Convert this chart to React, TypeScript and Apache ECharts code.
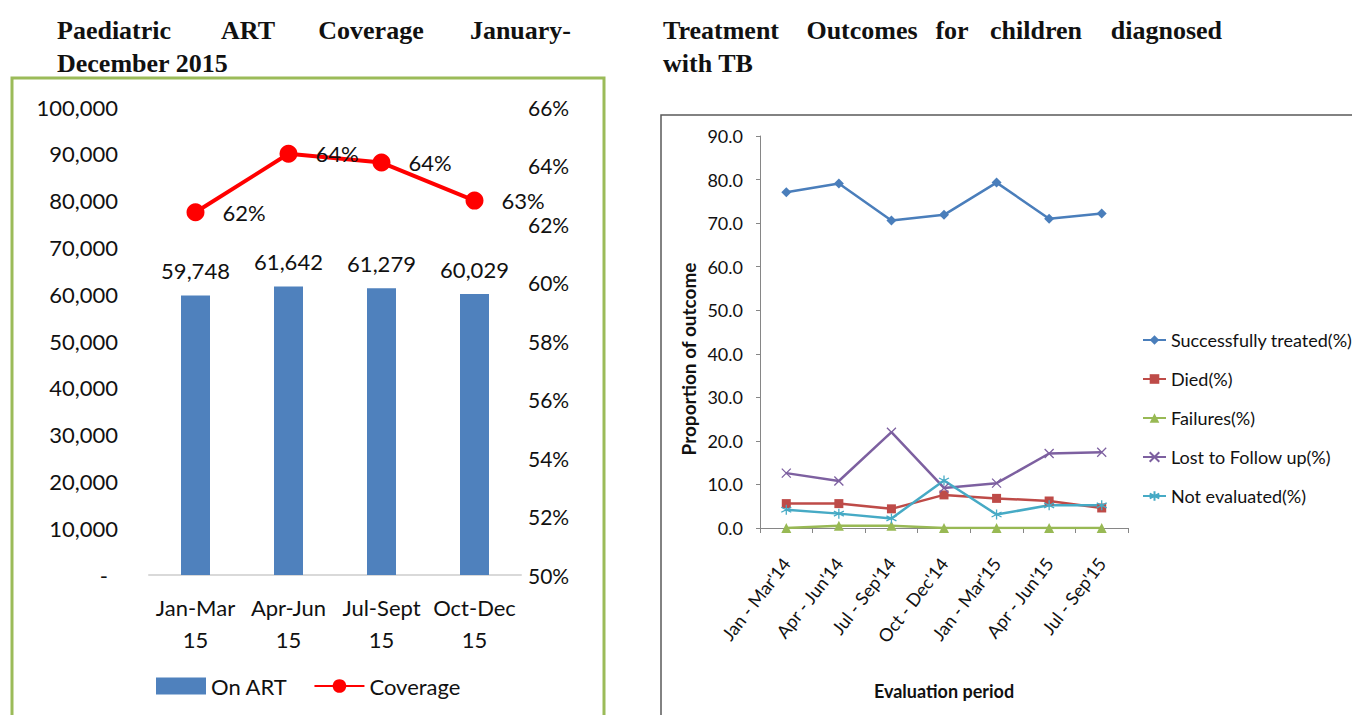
import React, { useEffect, useRef } from 'react';
import * as echarts from 'echarts';

// ---- Left chart data ----
const artCategories = ['Jan-Mar\n15', 'Apr-Jun\n15', 'Jul-Sept\n15', 'Oct-Dec\n15'];
const onArt = [59748, 61642, 61279, 60029];
const coverage = [62.4, 64.4, 64.1, 62.8];

// ---- Right chart data ----
const tbPeriods = ["Jan - Mar'14", "Apr - Jun'14", "Jul - Sep'14", "Oct - Dec'14", "Jan - Mar'15", "Apr - Jun'15", "Jul - Sep'15"];
const successfullyTreated = [77.1, 79.1, 70.6, 71.9, 79.3, 71.0, 72.2];
const died = [5.6, 5.6, 4.4, 7.6, 6.8, 6.2, 4.6];
const failures = [0, 0.5, 0.5, 0, 0, 0, 0];
const lostToFollowUp = [12.6, 10.8, 22.0, 9.2, 10.3, 17.1, 17.4];
const notEvaluated = [4.2, 3.3, 2.2, 10.9, 3.1, 5.2, 5.2];

const SANS = 'Lato, "Open Sans", sans-serif';
const SERIF = '"Liberation Serif", "DejaVu Serif", serif';
const TITLE_FONT = `bold 26px ${SERIF}`;

function word(text: string, x: number, y: number, align: string) {
  return {
    type: 'text',
    x,
    y,
    style: { text, font: TITLE_FONT, fill: '#111', textAlign: align, textVerticalAlign: 'middle' },
  };
}

const X_PATH = 'path://M0 0L10 10M10 0L0 10';
const STAR_PATH = 'path://M5 0L5 10M0.7 2.5L9.3 7.5M0.7 7.5L9.3 2.5';

function tbLine(name: string, data: number[], color: string, symbol: string, size: number, stroked: boolean) {
  return {
    name,
    type: 'line',
    xAxisIndex: 1,
    yAxisIndex: 2,
    data,
    symbol,
    symbolSize: size,
    showAllSymbol: true,
    lineStyle: { color, width: 2.5 },
    itemStyle: stroked ? { color, borderColor: color, borderWidth: 1.3 } : { color },
  };
}

export default function App() {
  const ref = useRef<HTMLDivElement>(null);
  useEffect(() => {
    const chart = echarts.init(ref.current!, null, { renderer: 'svg' });
    const option: any = {
      animation: false,
      backgroundColor: '#ffffff',
      textStyle: { fontFamily: SANS },
      graphic: [
        { type: 'rect', shape: { x: 12, y: 78, width: 592, height: 700 }, style: { fill: 'none', stroke: '#9BBB59', lineWidth: 3 } },
        { type: 'rect', shape: { x: 661, y: 115, width: 800, height: 700 }, style: { fill: 'none', stroke: '#595959', lineWidth: 1.5 } },
        word('Paediatric', 57, 30, 'left'),
        word('ART', 248, 30, 'center'),
        word('Coverage', 371, 30, 'center'),
        word('January-', 571, 30, 'right'),
        word('December 2015', 57, 63, 'left'),
        word('Treatment', 663, 30, 'left'),
        word('Outcomes', 862, 30, 'center'),
        word('for', 952, 30, 'center'),
        word('children', 1036, 30, 'center'),
        word('diagnosed', 1222, 30, 'right'),
        word('with TB', 663, 63, 'left'),
        {
          type: 'text',
          x: 688,
          y: 359,
          rotation: Math.PI / 2,
          style: { text: 'Proportion of outcome', font: `bold 19px ${SANS}`, fill: '#111', textAlign: 'center', textVerticalAlign: 'middle' },
        },
        {
          type: 'text',
          x: 944,
          y: 691,
          style: { text: 'Evaluation period', font: `bold 18px ${SANS}`, fill: '#111', textAlign: 'center', textVerticalAlign: 'middle' },
        },
      ],
      legend: [
        {
          left: 151,
          top: 670,
          itemWidth: 50,
          itemHeight: 17,
          itemGap: 26,
          textStyle: { fontSize: 22, color: '#111', fontFamily: SANS },
          data: [{ name: 'On ART', icon: 'rect' }, { name: 'Coverage' }],
        },
        {
          orient: 'vertical',
          left: 1137,
          top: 326,
          itemWidth: 23,
          itemHeight: 12,
          itemGap: 21,
          textStyle: { fontSize: 18, color: '#111', fontFamily: SANS },
          data: ['Successfully treated(%)', 'Died(%)', 'Failures(%)', 'Lost to Follow up(%)', 'Not evaluated(%)'],
        },
      ],
      grid: [
        { left: 149, top: 107, width: 372, height: 468 },
        { left: 760, top: 136, width: 368, height: 392 },
      ],
      xAxis: [
        {
          type: 'category',
          gridIndex: 0,
          data: artCategories,
          axisLine: { lineStyle: { color: '#D9D9D9', width: 2 } },
          axisTick: { show: false },
          axisLabel: { fontSize: 22, color: '#111', margin: 16, lineHeight: 32, fontFamily: SANS, interval: 0 },
        },
        {
          type: 'category',
          gridIndex: 1,
          data: tbPeriods,
          boundaryGap: true,
          axisLine: { lineStyle: { color: '#868686', width: 1 } },
          axisTick: { show: true, length: 5, interval: 0, lineStyle: { color: '#868686' } },
          axisLabel: { rotate: 52, fontSize: 18, color: '#111', margin: 32, interval: 0, fontFamily: SANS },
        },
      ],
      yAxis: [
        {
          type: 'value',
          gridIndex: 0,
          min: 0,
          max: 100000,
          interval: 10000,
          position: 'left',
          splitLine: { show: false },
          axisLine: { show: false },
          axisTick: { show: false },
          axisLabel: {
            fontSize: 22,
            color: '#111',
            margin: 31,
            fontFamily: SANS,
            formatter: (v: number) => (v === 0 ? '{d|-}' : v.toLocaleString('en-US')),
            rich: { d: { fontSize: 22, color: '#111', padding: [0, 10, 0, 0], fontFamily: SANS } },
          },
        },
        {
          type: 'value',
          gridIndex: 0,
          min: 50,
          max: 66,
          interval: 2,
          position: 'right',
          splitLine: { show: false },
          axisLine: { show: false },
          axisTick: { show: false },
          axisLabel: { fontSize: 21, color: '#111', margin: 7, fontFamily: SANS, formatter: (v: number) => `${v}%` },
        },
        {
          type: 'value',
          gridIndex: 1,
          min: 0,
          max: 90,
          interval: 10,
          splitLine: { show: false },
          axisLine: { show: true, lineStyle: { color: '#868686', width: 1 } },
          axisTick: { show: true, length: 4, lineStyle: { color: '#868686' } },
          axisLabel: { fontSize: 18, color: '#111', margin: 17, fontFamily: SANS, formatter: (v: number) => v.toFixed(1) },
        },
      ],
      series: [
        {
          name: 'On ART',
          type: 'bar',
          xAxisIndex: 0,
          yAxisIndex: 0,
          data: onArt,
          barWidth: 29,
          itemStyle: { color: '#4F81BD' },
          label: {
            show: true,
            position: 'top',
            distance: 14,
            fontSize: 22,
            color: '#111',
            fontFamily: SANS,
            formatter: (p: any) => Number(p.value).toLocaleString('en-US'),
          },
        },
        {
          name: 'Coverage',
          type: 'line',
          xAxisIndex: 0,
          yAxisIndex: 1,
          data: coverage,
          symbol: 'circle',
          symbolSize: 18,
          lineStyle: { color: '#FF0000', width: 4 },
          itemStyle: { color: '#FF0000' },
          label: {
            show: true,
            position: 'right',
            distance: 18,
            fontSize: 22,
            color: '#111',
            fontFamily: SANS,
            formatter: (p: any) => `${Math.round(p.value)}%`,
          },
        },
        tbLine('Successfully treated(%)', successfullyTreated, '#4A7EBB', 'diamond', 10, false),
        tbLine('Died(%)', died, '#BE4B48', 'rect', 9, false),
        tbLine('Failures(%)', failures, '#98B954', 'triangle', 10, false),
        tbLine('Lost to Follow up(%)', lostToFollowUp, '#7D60A0', X_PATH, 9, true),
        tbLine('Not evaluated(%)', notEvaluated, '#46AAC5', STAR_PATH, 10, true),
      ],
    };
    chart.setOption(option);
    return () => chart.dispose();
  }, []);
  return (
    <div
      ref={ref}
      style={{ position: 'absolute', left: 0, top: 0, width: 1352, height: 715, background: '#fff' }}
    />
  );
}
